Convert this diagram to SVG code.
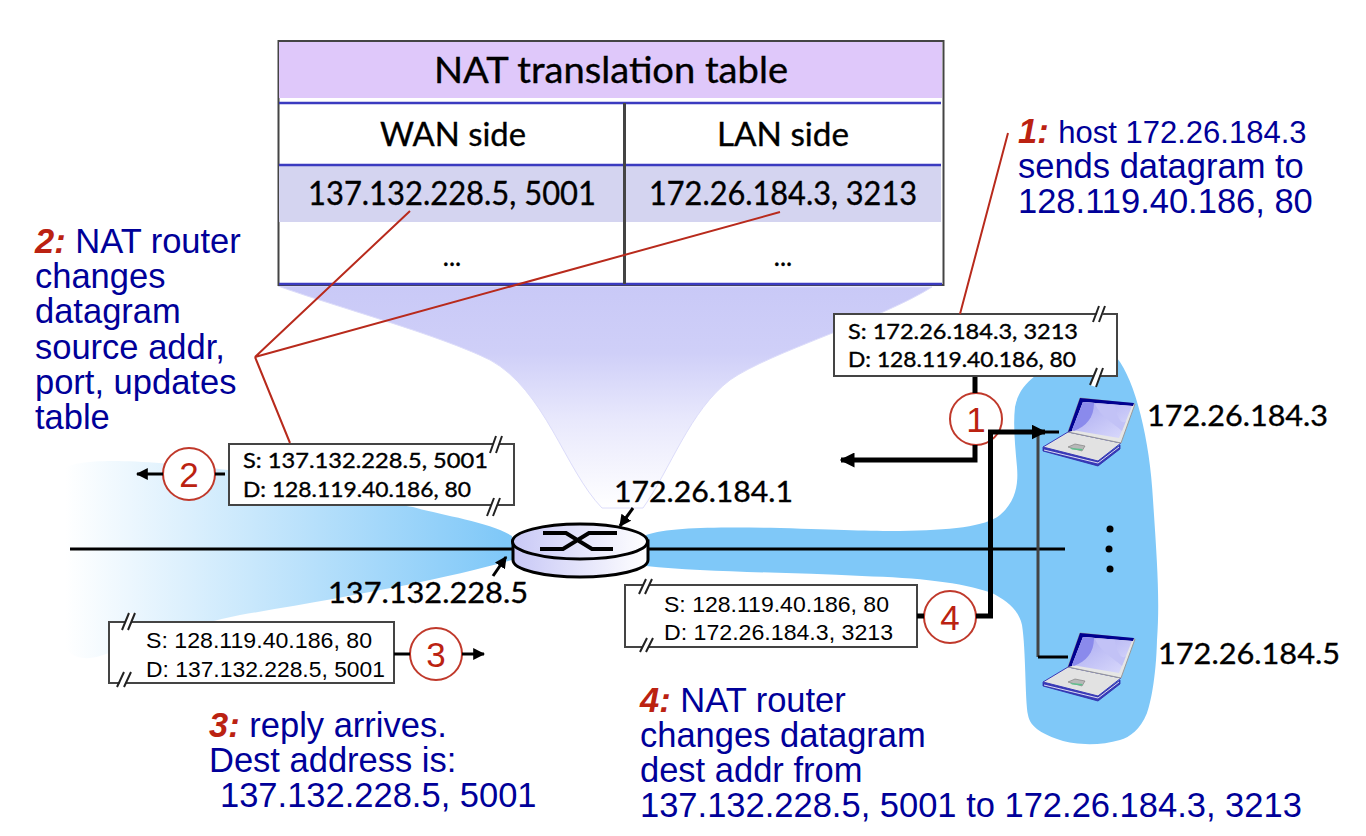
<svg xmlns="http://www.w3.org/2000/svg" xmlns:xlink="http://www.w3.org/1999/xlink" width="1366" height="836" viewBox="0 0 1366 836">
<style>
.hand{font-family:"Lato","Open Sans",sans-serif;fill:#000;stroke:#000;stroke-width:.35}
.note{font-family:"Liberation Sans",Arial,sans-serif;font-size:34.5px;fill:#000099}
.num{font-family:"Liberation Sans",Arial,sans-serif;font-style:italic;font-weight:bold;fill:#bb2211}
.pk{font-family:"Liberation Sans",Arial,sans-serif;font-size:22px;fill:#000}
.box{fill:#fff;stroke:#444;stroke-width:2}
.red{stroke:#b82a1c;stroke-width:2;fill:none}
.thick{stroke:#000;stroke-width:5;fill:none}
.thin{stroke:#000;stroke-width:3;fill:none}
.gray{stroke:#444;stroke-width:3;fill:none}
.circ{fill:#fff;stroke:#c0392b;stroke-width:2}
.cnum{font-family:"Liberation Sans",Arial,sans-serif;font-size:35px;fill:#bb2211;text-anchor:middle}
.brk{stroke:#222;stroke-width:2;fill:none}
.gap{fill:#fff}
.tl{stroke:#3b3bc0;stroke-width:2.5;fill:none}
</style>
<defs>
<linearGradient id="funnel" gradientUnits="userSpaceOnUse" x1="0" y1="286" x2="0" y2="508"><stop offset="0" stop-color="#c9c9f7"/><stop offset="0.3" stop-color="#cfcff8"/><stop offset="0.6" stop-color="#e8e8fc"/><stop offset="1" stop-color="#ffffff"/></linearGradient>
<linearGradient id="wan" gradientUnits="userSpaceOnUse" x1="65" y1="0" x2="505" y2="0"><stop offset="0" stop-color="#ffffff"/><stop offset="1" stop-color="#7fc8f8"/></linearGradient>
<linearGradient id="rt" x1="0" y1="0" x2="1" y2="0"><stop offset="0" stop-color="#c8c8f6"/><stop offset="1" stop-color="#ffffff"/></linearGradient>
<linearGradient id="scr" x1="0" y1="0" x2="1" y2="1"><stop offset="0" stop-color="#a8a8f0"/><stop offset="1" stop-color="#dcdcfc"/></linearGradient>
<marker id="ah" markerWidth="3" markerHeight="3" refX="2.700" refY="1.500" orient="auto" markerUnits="strokeWidth"><path d="M0 0L3 1.500L0 3Z" fill="#000"/></marker>
<marker id="ah2" markerWidth="4" markerHeight="4" refX="3.600" refY="2" orient="auto" markerUnits="strokeWidth"><path d="M0 0L4 2L0 4Z" fill="#000"/></marker>
<g id="laptop">
<path d="M1043 447L1098 461L1120 445L1120 449L1098 466L1043 451Z" fill="#3a3ab8" stroke="#2a2aa8" stroke-width=".8"/>
<path d="M1044 450L1098 463L1119 447" fill="none" stroke="#dcdcf0" stroke-width="1"/>
<path d="M1043 447L1068 432L1121 443L1098 461Z" fill="#e2e2e2" stroke="#3a3ab8" stroke-width="1"/>
<path d="M1068 432L1080 398L1135 404L1121 443Z" fill="#e6e6e6" stroke="#999" stroke-width="1"/>
<path d="M1068 432L1080 398L1134 403L1133 406L1083 402L1072 431Z" fill="#000090"/>
<path d="M1072 430L1083 402L1132 406L1119 438Z" fill="url(#scr)"/>
<path d="M1072 430L1083 402L1094 403C1094 418 1086 426 1074 431Z" fill="#8a8aec"/>
<path d="M1095 404L1115 405C1116 416 1122 426 1126 421L1122 431C1112 422 1100 416 1095 404Z" fill="#c2c2f6"/>
<path d="M1068 447L1075 444L1085 446L1082 451Z" fill="#b8b8b8" stroke="#777" stroke-width=".6"/>
<path d="M1070 448L1083 449L1081.500 450.500L1072 449.500Z" fill="#5cc08c"/>
</g>
</defs>
<rect width="1366" height="836" fill="#fff"/>
<g id="wan-cloud"><path d="M62 470C75 458 130 458 228 470L300 490L413 507C440 515 490 522 512 536V560C450 578 360 595 240 615C190 625 150 640 100 656C80 662 66 655 62 640Z" fill="url(#wan)"/></g>
<g id="lan-cloud"><path d="M646 535C670 527 720 527 780 528C840 530 870 531 900 531C950 530 985 527 1000 515C1018 500 1018 480 1017 467C1015 445 1013 425 1015 407C1018 392 1025 384 1035 376L1117 358C1135 380 1150 440 1153 500C1157 560 1160 600 1157 640C1156 680 1150 705 1147 713C1140 730 1130 737 1120 740C1100 746 1075 745 1060 740C1045 735 1030 728 1028 715C1025 700 1026 650 1022 625C1018 608 1005 600 992 593C960 582 920 578 862 576C780 572 700 572 646 566Z" fill="#7fc8f8"/></g>
<g id="funnel-shape"><path d="M278 286C330 305 440 335 490 360C545 390 565 470 602 508H643C670 470 690 410 730 380C770 352 880 320 932 287Z" fill="url(#funnel)" stroke="#dcdcfa" stroke-width="1"/></g>
<g id="table">
<rect x="278.500" y="41" width="665" height="244" fill="#fff" stroke="#444" stroke-width="2"/>
<rect x="279" y="42" width="663" height="56" fill="#dfc8fa"/>
<rect x="279" y="166" width="662" height="56" fill="#d4d4f0"/>
<line class="tl" x1="279" y1="103" x2="941" y2="103"/>
<line class="tl" x1="279" y1="165" x2="941" y2="165"/>
<line class="tl" x1="279" y1="284" x2="942" y2="284"/>
<line x1="624.500" y1="103" x2="624.500" y2="284" stroke="#444" stroke-width="3"/>
<text class="hand" x="611" y="83" font-size="36" text-anchor="middle" textLength="354" lengthAdjust="spacingAndGlyphs">NAT translation table</text>
<text class="hand" x="453" y="146" font-size="32" text-anchor="middle" textLength="146" lengthAdjust="spacingAndGlyphs">WAN side</text>
<text class="hand" x="783" y="146" font-size="32" text-anchor="middle" textLength="132" lengthAdjust="spacingAndGlyphs">LAN side</text>
<text class="hand" x="452" y="205" font-size="32" text-anchor="middle" textLength="288" lengthAdjust="spacingAndGlyphs">137.132.228.5, 5001</text>
<text class="hand" x="783" y="205" font-size="32" text-anchor="middle" textLength="268" lengthAdjust="spacingAndGlyphs">172.26.184.3, 3213</text>
<text class="hand" x="452" y="266" font-size="26" text-anchor="middle">...</text>
<text class="hand" x="783" y="266" font-size="26" text-anchor="middle">...</text>
</g>
<g id="packet1">
<rect class="box" x="834" y="314" width="283" height="62"/>
<path class="gap" d="M1094 324L1100 304L1106 304L1100 324Z"/>
<path class="brk" d="M1093 322L1099 306M1099 322L1105 306"/>
<path class="gap" d="M1090 385L1097 368L1102 368L1096 387Z"/>
<path class="brk" d="M1090 385L1097 368M1096 387L1103 368"/>
<text class="hand" x="848" y="339" font-size="21" textLength="230" lengthAdjust="spacingAndGlyphs">S: 172.26.184.3, 3213</text>
<text class="hand" x="848" y="367" font-size="21" textLength="228" lengthAdjust="spacingAndGlyphs">D: 128.119.40.186, 80</text>
</g>
<g id="packet2">
<rect class="box" x="229" y="444" width="285" height="61"/>
<path class="gap" d="M490 453L496 436L502 436L496 453Z"/>
<path class="brk" d="M490 453L496 436M496 453L502 436"/>
<path class="gap" d="M487 516L494 498L500 498L493 516Z"/>
<path class="brk" d="M487 516L494 498M493 516L500 498"/>
<text class="hand" x="243" y="468" font-size="21" textLength="245" lengthAdjust="spacingAndGlyphs">S: 137.132.228.5, 5001</text>
<text class="hand" x="243" y="497" font-size="21" textLength="228" lengthAdjust="spacingAndGlyphs">D: 128.119.40.186, 80</text>
</g>
<g id="packet3">
<rect class="box" x="109" y="622" width="285" height="61"/>
<path class="gap" d="M122 630L129 613L135 613L128 630Z"/>
<path class="brk" d="M122 630L129 613M128 630L135 613"/>
<path class="gap" d="M118 687L125 672L131 672L124 687Z"/>
<path class="brk" d="M117 687L124 672M124 687L131 672"/>
<text class="pk" x="146" y="648" textLength="226" lengthAdjust="spacingAndGlyphs">S: 128.119.40.186, 80</text>
<text class="pk" x="146" y="677" textLength="239" lengthAdjust="spacingAndGlyphs">D: 137.132.228.5, 5001</text>
</g>
<g id="packet4">
<rect class="box" x="625" y="585" width="292" height="62"/>
<path class="gap" d="M639 594L646 579L652 579L645 594Z"/>
<path class="brk" d="M639 594L646 579M645 594L652 579"/>
<path class="gap" d="M640 652L647 638L653 638L646 652Z"/>
<path class="brk" d="M640 652L647 638M646 652L653 638"/>
<text class="pk" x="664" y="612" textLength="225" lengthAdjust="spacingAndGlyphs">S: 128.119.40.186, 80</text>
<text class="pk" x="664" y="640" textLength="229" lengthAdjust="spacingAndGlyphs">D: 172.26.184.3, 3213</text>
</g>
<g id="step1"><circle class="circ" cx="976" cy="419" r="26"/><text class="cnum" x="976" y="432">1</text></g>
<g id="step2"><circle class="circ" cx="189" cy="474" r="26"/><text class="cnum" x="189" y="487">2</text></g>
<g id="step3"><circle class="circ" cx="436" cy="654" r="26"/><text class="cnum" x="436" y="667">3</text></g>
<g id="step4"><circle class="circ" cx="950" cy="617" r="26"/><text class="cnum" x="950" y="630">4</text></g>
<g id="connectors">
<line x1="70" y1="549" x2="512" y2="549" class="thin"/>
<line x1="648" y1="549" x2="1065" y2="549" class="thin"/>
<line x1="1038" y1="432" x2="1038" y2="657" class="gray"/>
<line x1="1038" y1="657" x2="1068" y2="657" class="thin"/>
<line x1="1038" y1="432" x2="1059" y2="432" class="thin"/>
<line x1="975" y1="377" x2="975" y2="393" class="thick"/>
<path d="M975 445V460H841" class="thick" marker-end="url(#ah)"/>
<path d="M917 616H924" class="thick"/>
<path d="M976 616H990.500V432H1045" class="thick" marker-end="url(#ah)"/>
<path d="M225 474H215" class="thin"/>
<path d="M163 474H137" class="thin" marker-end="url(#ah2)"/>
<path d="M394 654H410" class="thin"/>
<path d="M462 654H484" class="thin" marker-end="url(#ah2)"/>
<path d="M633 508L620 526" class="thin" marker-end="url(#ah2)"/>
<path d="M493 576L506 557" class="thin" marker-end="url(#ah2)"/>
<path class="red" d="M410 211L255 357L780 212M255 357L290 443M1008 133L960 314"/>
</g>
<g id="router">
<path d="M513 541V560C513 570 545 577 580 577C615 577 648 570 648 560V541Z" fill="url(#rt)" stroke="#000" stroke-width="3"/>
<ellipse cx="580" cy="541.500" rx="67.500" ry="17.500" fill="url(#rt)" stroke="#000" stroke-width="3"/>
<path d="M543 533H566L592 549H613M540 549H563L589 533H617" fill="none" stroke="#000" stroke-width="4"/>
</g>
<g id="host1"><use xlink:href="#laptop" href="#laptop"/></g>
<g id="host2"><use xlink:href="#laptop" href="#laptop" y="235"/></g>
<g id="dots"><circle cx="1110" cy="529" r="3.500"/><circle cx="1109" cy="549" r="3.500"/><circle cx="1110" cy="569" r="3.500"/></g>
<g id="addresses">
<text class="hand" x="1147" y="426" font-size="29" textLength="181" lengthAdjust="spacingAndGlyphs">172.26.184.3</text>
<text class="hand" x="1158" y="664" font-size="29" textLength="182" lengthAdjust="spacingAndGlyphs">172.26.184.5</text>
<text class="hand" x="614" y="502" font-size="29" textLength="179" lengthAdjust="spacingAndGlyphs">172.26.184.1</text>
<text class="hand" x="328" y="603" font-size="29" textLength="200" lengthAdjust="spacingAndGlyphs">137.132.228.5</text>
</g>
<g id="note1">
<text class="note" x="1018" y="143"><tspan class="num">1:</tspan> <tspan font-size="31">host 172.26.184.3</tspan></text>
<text class="note" x="1018" y="178">sends datagram to</text>
<text class="note" x="1018" y="213">128.119.40.186, 80</text>
</g>
<g id="note2">
<text class="note" x="35" y="253"><tspan class="num">2:</tspan> NAT router</text>
<text class="note" x="35" y="288">changes</text>
<text class="note" x="35" y="323">datagram</text>
<text class="note" x="35" y="359">source addr,</text>
<text class="note" x="35" y="394">port, updates</text>
<text class="note" x="35" y="429">table</text>
</g>
<g id="note3">
<text class="note" x="209" y="737"><tspan class="num">3:</tspan> reply arrives.</text>
<text class="note" x="209" y="772">Dest address is:</text>
<text class="note" x="220" y="807">137.132.228.5, 5001</text>
</g>
<g id="note4">
<text class="note" x="640" y="712"><tspan class="num">4:</tspan> NAT router</text>
<text class="note" x="640" y="747">changes datagram</text>
<text class="note" x="640" y="782">dest addr from</text>
<text class="note" x="640" y="817">137.132.228.5, 5001 to 172.26.184.3, 3213</text>
</g>
</svg>
